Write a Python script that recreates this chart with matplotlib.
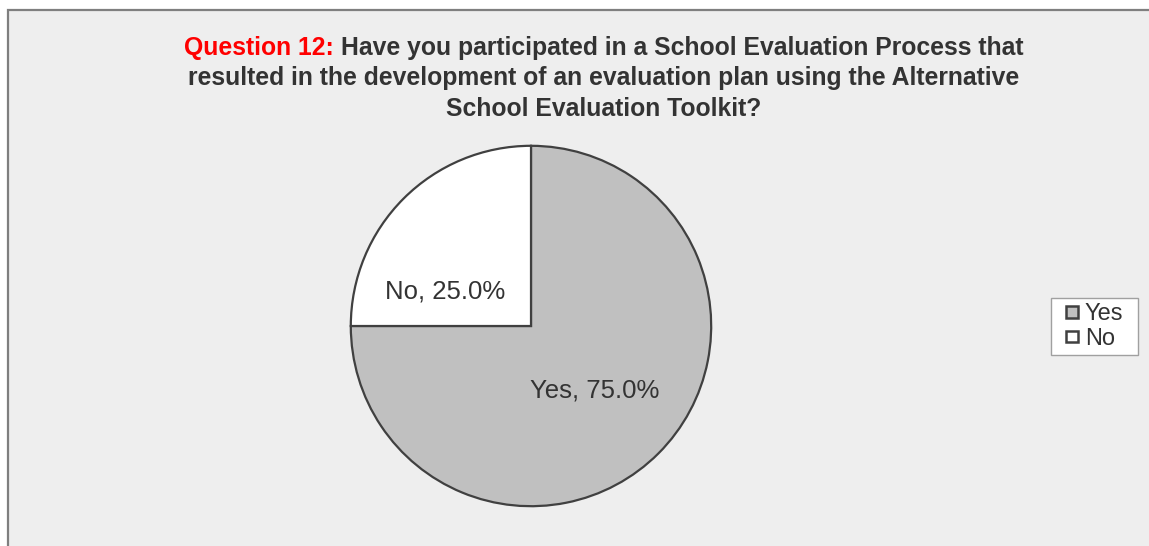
import matplotlib
matplotlib.use("Agg")
import matplotlib.pyplot as plt
from matplotlib.patches import Rectangle, Patch
from matplotlib.legend_handler import HandlerPatch

categories = ["Yes", "No"]
shares = [75.0, 25.0]
colors = ["#c0c0c0", "#ffffff"]

title_lead = "Question 12:"
title_lines = [
    "Have you participated in a School Evaluation Process that",
    "resulted in the development of an evaluation plan using the Alternative",
    "School Evaluation Toolkit?",
]

W, H = 1149, 546
fig = plt.figure(figsize=(W / 100, H / 100), dpi=100)
fig.patch.set_facecolor("white")

# chart area panel with dark top/left border
fig.patches.append(Rectangle((8 / W, -0.2), 1.2, 1.2 - 10 / H, transform=fig.transFigure,
                             facecolor="#eeeeee", edgecolor="#7f7f7f", linewidth=1.6,
                             zorder=-5))

# title: red lead-in followed by dark text on the first line
tfont = dict(family="Liberation Sans", fontsize=17.8, fontweight="bold")
cx = 604 / W
ys = [48, 78.5, 109]
renderer = fig.canvas.get_renderer()
lead = fig.text(0, 0, title_lead + " ", color="#ff0000", va="center", **tfont)
rest = fig.text(0, 0, title_lines[0], color="#333333", va="center", **tfont)
wl = lead.get_window_extent(renderer).width
wr = rest.get_window_extent(renderer).width
x0 = cx * W - (wl + wr) / 2
lead.set_position((x0 / W, 1 - ys[0] / H))
rest.set_position(((x0 + wl) / W, 1 - ys[0] / H))
for line, y in zip(title_lines[1:], ys[1:]):
    fig.text(cx, 1 - y / H, line, color="#333333", ha="center", va="center", **tfont)

# pie
r = 182
pcx, pcy = 531, 326
ax = fig.add_axes([(pcx - r) / W, (H - pcy - r) / H, 2 * r / W, 2 * r / H])
ax.set_facecolor("none")
wedges, _ = ax.pie(shares, colors=colors, startangle=90, counterclock=False,
                   radius=1.0, wedgeprops=dict(edgecolor="#404040", linewidth=1.6))
ax.set_xlim(-1.01, 1.01)
ax.set_ylim(-1.01, 1.01)
ax.set_aspect("equal")
ax.axis("off")

label_pos = {"Yes": (0.355, -0.36), "No": (-0.475, 0.19)}
for cat, val in zip(categories, shares):
    x, y = label_pos[cat]
    ax.text(x, y, f"{cat}, {val:.1f}%", ha="center", va="center",
            fontsize=18.5, family="Liberation Sans", color="#333333")


def small_square(legend, orig_handle, xdescent, ydescent, width, height, fontsize):
    # square key, pushed to the right end of the handle box
    s = 8.4
    return Rectangle((-xdescent + width - s, -ydescent + (height - s) / 2), s, s)


handles = [Patch(facecolor=c, edgecolor="#404040", linewidth=1.8) for c in colors]
lx0, ly0, lw, lh = 1051, 300, 87, 53
leg = fig.legend(handles, categories, loc="center left",
                 bbox_to_anchor=(lx0 / W, 1 - (ly0 + lh) / H, lw / W, lh / H),
                 mode="expand",
                 handler_map={Patch: HandlerPatch(patch_func=small_square)},
                 prop=dict(family="Liberation Sans", size=17), handlelength=0.95,
                 handleheight=0.7, handletextpad=0.28, labelspacing=0.12,
                 borderpad=0.2, borderaxespad=0, fancybox=False, framealpha=1,
                 edgecolor="#a0a0a0", labelcolor="#333333")
leg.get_frame().set_linewidth(1.0)

fig.savefig("out.png", dpi=100, facecolor=fig.get_facecolor())
